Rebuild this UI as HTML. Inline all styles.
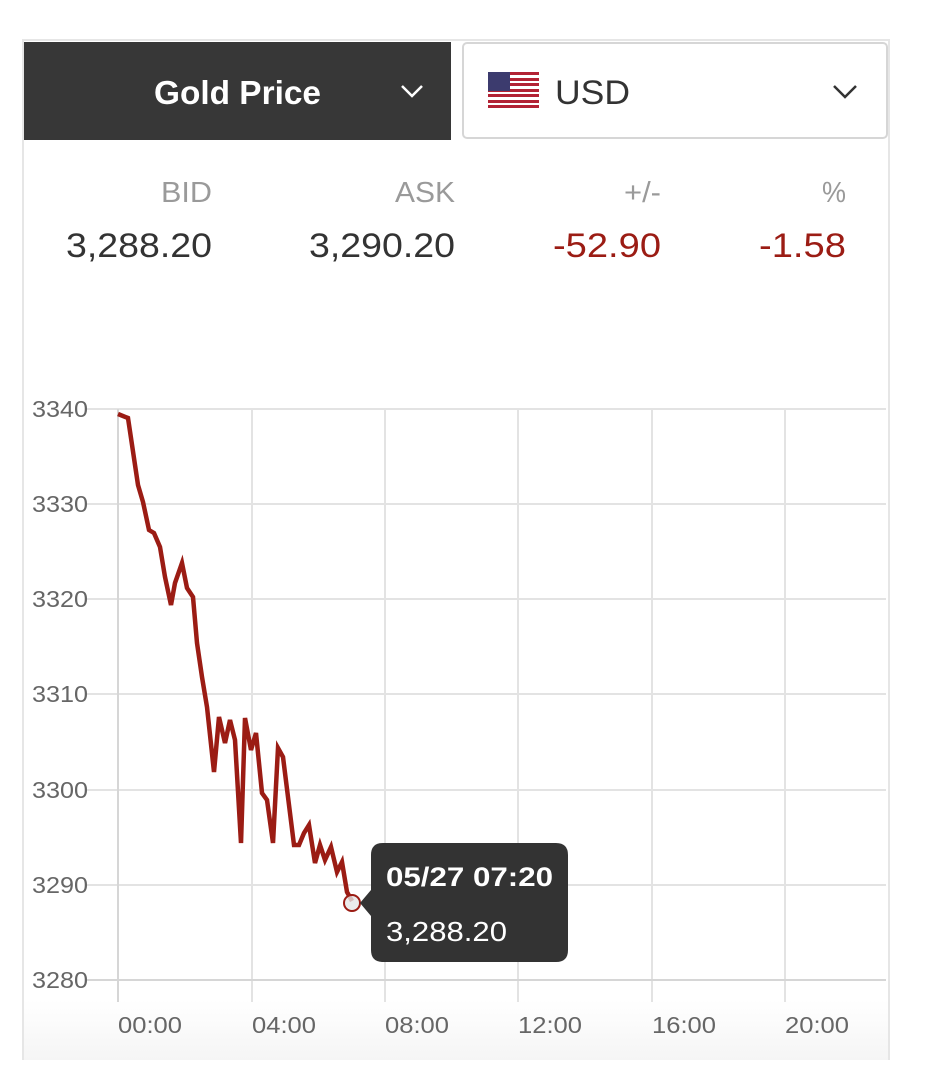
<!DOCTYPE html>
<html><head><meta charset="utf-8"><style>
body{margin:0;width:930px;height:1060px;background:#fff;overflow:hidden;font-family:"Liberation Sans",sans-serif;}
</style></head><body>
<svg width="930" height="1060" xmlns="http://www.w3.org/2000/svg" font-family="Liberation Sans, sans-serif">
<defs><linearGradient id="fade" x1="0" y1="0" x2="0" y2="1"><stop offset="0" stop-color="#fff"/><stop offset="1" stop-color="#f5f5f5"/></linearGradient></defs>
<rect x="23" y="40" width="866" height="1030" fill="#fff" stroke="#e6e6e6" stroke-width="2"/>
<rect x="24" y="42" width="427" height="98" fill="#373737"/>
<text x="154" y="104" font-size="33" font-weight="bold" fill="#fff" textLength="167" lengthAdjust="spacingAndGlyphs">Gold Price</text>
<path d="M402 86 L412 96 L422 86" fill="none" stroke="#fff" stroke-width="2.5"/>
<rect x="463" y="43" width="424" height="95" rx="4" fill="#fff" stroke="#d6d6d6" stroke-width="2"/>
<g>
<rect x="488" y="72" width="51" height="36" fill="#fff"/>
<g fill="#b22234">
<rect x="488" y="72" width="51" height="3"/><rect x="488" y="78" width="51" height="3"/><rect x="488" y="83" width="51" height="3"/><rect x="488" y="89" width="51" height="3"/><rect x="488" y="94" width="51" height="3"/><rect x="488" y="100" width="51" height="3"/><rect x="488" y="105" width="51" height="3"/>
</g>
<rect x="488" y="72" width="22" height="19" fill="#3c3b6e"/>
</g>
<text x="555" y="104" font-size="34" fill="#333" textLength="75" lengthAdjust="spacingAndGlyphs">USD</text>
<path d="M834 86 L845 97 L856 86" fill="none" stroke="#333" stroke-width="2.5"/>
<g font-size="29" fill="#9a9a9a">
<text x="161" y="202" textLength="51" lengthAdjust="spacingAndGlyphs">BID</text>
<text x="395" y="202" textLength="60" lengthAdjust="spacingAndGlyphs">ASK</text>
<text x="624" y="202" textLength="37" lengthAdjust="spacingAndGlyphs">+/-</text>
<text x="822" y="202" textLength="24" lengthAdjust="spacingAndGlyphs">%</text>
</g>
<g font-size="34">
<text x="66" y="257" fill="#333" textLength="146" lengthAdjust="spacingAndGlyphs">3,288.20</text>
<text x="309" y="257" fill="#333" textLength="146" lengthAdjust="spacingAndGlyphs">3,290.20</text>
<text x="553" y="257" fill="#9b1c14" textLength="108" lengthAdjust="spacingAndGlyphs">-52.90</text>
<text x="759" y="257" fill="#9b1c14" textLength="87" lengthAdjust="spacingAndGlyphs">-1.58</text>
</g>
<rect x="24" y="1000" width="864" height="60" fill="url(#fade)"/>
<g stroke="#e3e3e3" stroke-width="2">
<line x1="85" y1="409" x2="886" y2="409"/><line x1="85" y1="504" x2="886" y2="504"/><line x1="85" y1="599" x2="886" y2="599"/><line x1="85" y1="694" x2="886" y2="694"/><line x1="85" y1="790" x2="886" y2="790"/><line x1="85" y1="885" x2="886" y2="885"/>
<line x1="252" y1="409" x2="252" y2="1002"/><line x1="385" y1="409" x2="385" y2="1002"/><line x1="518" y1="409" x2="518" y2="1002"/><line x1="652" y1="409" x2="652" y2="1002"/><line x1="785" y1="409" x2="785" y2="1002"/>
</g>
<line x1="85" y1="980" x2="886" y2="980" stroke="#d6d6d6" stroke-width="2"/>
<line x1="118" y1="409" x2="118" y2="1002" stroke="#d6d6d6" stroke-width="2"/>
<g font-size="23" fill="#666">
<text x="32" y="417" textLength="56" lengthAdjust="spacingAndGlyphs">3340</text>
<text x="32" y="512" textLength="56" lengthAdjust="spacingAndGlyphs">3330</text>
<text x="32" y="607" textLength="56" lengthAdjust="spacingAndGlyphs">3320</text>
<text x="32" y="702" textLength="56" lengthAdjust="spacingAndGlyphs">3310</text>
<text x="32" y="798" textLength="56" lengthAdjust="spacingAndGlyphs">3300</text>
<text x="32" y="893" textLength="56" lengthAdjust="spacingAndGlyphs">3290</text>
<text x="32" y="988" textLength="56" lengthAdjust="spacingAndGlyphs">3280</text>
</g>
<g font-size="23" fill="#666">
<text x="118" y="1033" textLength="64" lengthAdjust="spacingAndGlyphs">00:00</text>
<text x="252" y="1033" textLength="64" lengthAdjust="spacingAndGlyphs">04:00</text>
<text x="385" y="1033" textLength="64" lengthAdjust="spacingAndGlyphs">08:00</text>
<text x="518" y="1033" textLength="64" lengthAdjust="spacingAndGlyphs">12:00</text>
<text x="652" y="1033" textLength="64" lengthAdjust="spacingAndGlyphs">16:00</text>
<text x="785" y="1033" textLength="64" lengthAdjust="spacingAndGlyphs">20:00</text>
</g>
<polyline fill="none" stroke="#9b1c14" stroke-width="4.5" stroke-linejoin="miter" points="118,414 128,418 138,485 143,502 149,530 154,533 160,547 165,577 171,605 175,583 182,563 187,588 193,597 197,643 202,677 207,707 214,772 219,717 225,743 230,720 235,740 241,843 245,718 251,750 256,733 262,793 267,800 273,843 278,748 283,757 294,845 299,845 304,833 309,825 315,863 320,845 325,860 331,847 337,872 342,862 347,892 352,901"/>
<circle cx="352" cy="903" r="8" fill="#e6e6e6" fill-opacity="0.8" stroke="#9b1c14" stroke-width="2"/>
<path d="M371 855 Q371 843 383 843 L556 843 Q568 843 568 855 L568 950 Q568 962 556 962 L383 962 Q371 962 371 950 L371 916 L360 903 L371 890 Z" fill="#333"/>
<text x="386" y="886" font-size="27" font-weight="bold" fill="#fff" textLength="167" lengthAdjust="spacingAndGlyphs">05/27 07:20</text>
<text x="386" y="941" font-size="28" fill="#fff" textLength="121" lengthAdjust="spacingAndGlyphs">3,288.20</text>
</svg>
</body></html>
